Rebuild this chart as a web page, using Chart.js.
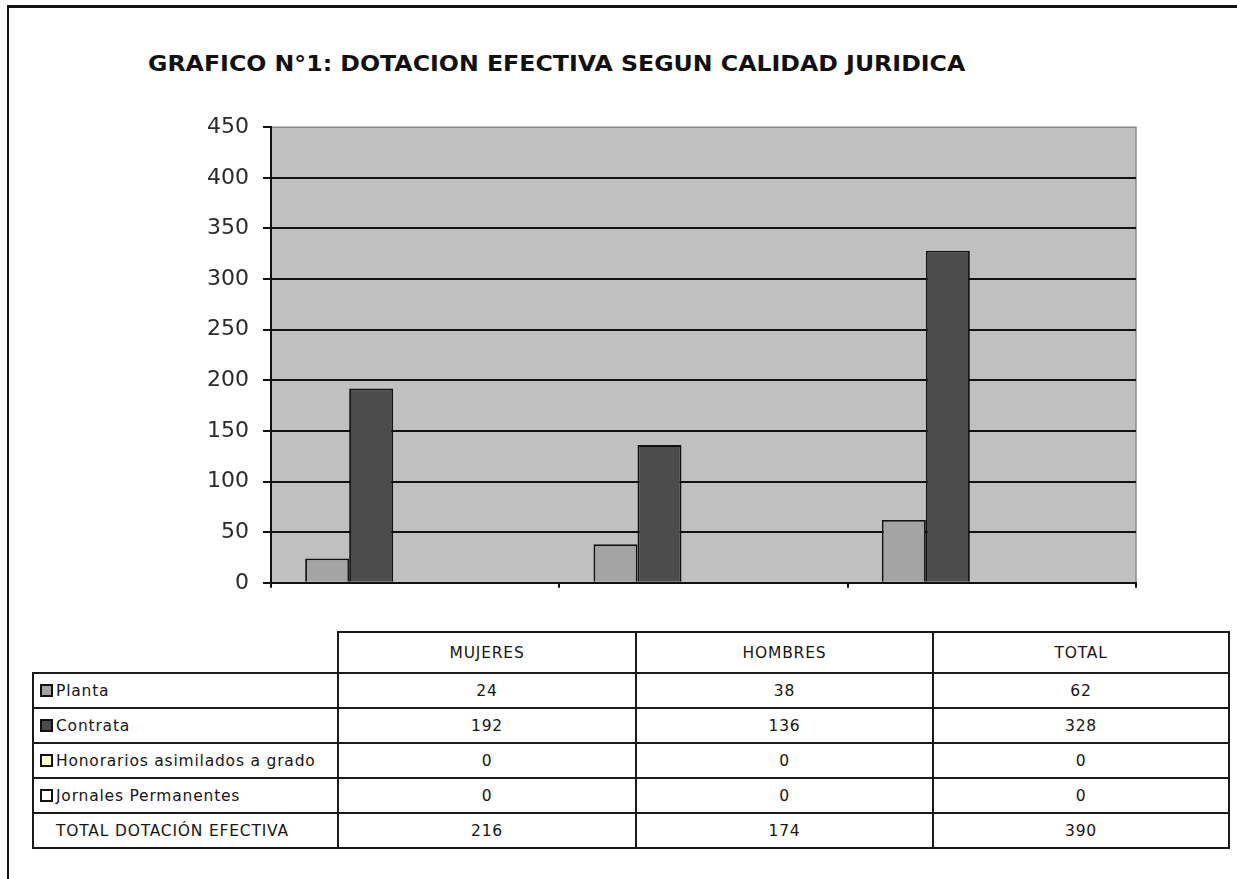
<!DOCTYPE html>
<html>
<head>
<meta charset="utf-8">
<script src="https://cdn.jsdelivr.net/npm/chart.js@4.4.1/dist/chart.umd.min.js"></script>
<style>
  html, body { margin: 0; padding: 0; background: #fff; }
  body { width: 1237px; height: 879px; position: relative; overflow: hidden; font-family: "DejaVu Sans", sans-serif; color: #111; }
  #frameTop { position: absolute; left: 7px; top: 5px; width: 1230px; height: 3px; background: #151515; }
  #frameLeft { position: absolute; left: 7px; top: 5px; width: 2px; height: 874px; background: #151515; }
  #title { position: absolute; left: 148px; top: 51px; font-weight: bold; font-size: 22px; line-height: 26px; white-space: nowrap; transform-origin: 0 0; }
  #chartBox { position: absolute; left: 150px; top: 100px; width: 1020px; height: 510px; }
  .cell { position: absolute; box-sizing: border-box; border: 2px solid #1a1a1a; display: flex; align-items: center; justify-content: center; font-size: 15.5px; letter-spacing: 0.8px; white-space: nowrap; color: #151515; }
  .cell.label { justify-content: flex-start; padding-left: 22px; }
  .key { position: absolute; left: 6px; top: 50%; width: 13px; height: 13px; margin-top: -7px; box-sizing: border-box; border: 2px solid #111; }
</style>
</head>
<body>
<div id="frameTop"></div>
<div id="frameLeft"></div>
<div id="title">GRAFICO N°1: DOTACION EFECTIVA SEGUN CALIDAD JURIDICA</div>
<div id="chartBox"><canvas id="chart" width="1020" height="510"></canvas></div>
<div id="table"></div>

<script>
// Categories and series values
const categories = ['MUJERES', 'HOMBRES', 'TOTAL'];
const planta = [24, 38, 62];
const contrata = [192, 136, 328];
const honorarios = [0, 0, 0];
const jornales = [0, 0, 0];
const totalDotacion = [216, 174, 390];
const yTickValues = [0, 50, 100, 150, 200, 250, 300, 350, 400, 450];

const seriesNames = ['Planta', 'Contrata', 'Honorarios asimilados a grado', 'Jornales Permanentes', 'TOTAL DOTACIÓN EFECTIVA'];
const seriesValues = [planta, contrata, honorarios, jornales, totalDotacion];
const seriesFill = ['#a4a4a4', '#4c4c4c', '#ffffcc', '#ffffff', 'rgba(0,0,0,0)'];
const seriesBorder = ['#111', '#111', '#111', '#111', 'rgba(0,0,0,0)'];

// Grey plot background and its thin frame
const plotBackground = {
  id: 'plotBackground',
  beforeDraw(chart) {
    const { ctx, chartArea: a } = chart;
    ctx.save();
    ctx.fillStyle = '#c0c0c0';
    ctx.fillRect(a.left, a.top, a.right - a.left, a.bottom - a.top);
    ctx.strokeStyle = '#8a8a8a';
    ctx.lineWidth = 1.5;
    ctx.beginPath();
    ctx.moveTo(a.left, a.top);
    ctx.lineTo(a.right, a.top);
    ctx.lineTo(a.right, a.bottom);
    ctx.stroke();
    ctx.restore();
  }
};

new Chart(document.getElementById('chart'), {
  type: 'bar',
  data: {
    labels: categories,
    datasets: seriesNames.map((name, i) => ({
      label: name,
      data: seriesValues[i],
      backgroundColor: seriesFill[i],
      borderColor: seriesBorder[i],
      borderWidth: 1.8,
      categoryPercentage: 0.763,
      barPercentage: 1.0
    }))
  },
  plugins: [plotBackground],
  options: {
    responsive: false,
    animation: false,
    layout: { padding: { left: 51, right: 34, top: 27, bottom: 11 } },
    plugins: { legend: { display: false }, tooltip: { enabled: false }, title: { display: false } },
    scales: {
      x: {
        afterFit(s) { s.height = 12; },
        ticks: { display: false },
        grid: { drawOnChartArea: false, drawTicks: true, tickLength: 5, color: '#111', lineWidth: 2, offset: true },
        border: { color: '#111', width: 2 }
      },
      y: {
        min: 0,
        max: 450,
        afterFit(s) { s.width = 70; },
        afterBuildTicks(s) { s.ticks = yTickValues.map(v => ({ value: v })); },
        ticks: { font: { family: 'DejaVu Sans', size: 22 }, color: '#2a2a2a', padding: 14 },
        grid: {
          color: ctx => (ctx.tick && ctx.tick.value === 450 ? 'rgba(0,0,0,0)' : '#111'),
          tickColor: '#111',
          lineWidth: 2,
          tickLength: 8
        },
        border: { color: '#111', width: 2 }
      }
    }
  }
});

// Fit the title to its line length
const title = document.getElementById('title');
title.style.transform = 'scaleX(' + (817 / title.offsetWidth) + ')';

// Data table below the chart
const colX = [33, 338, 636, 933, 1229];
const rowY = [632, 673, 708, 743, 778, 813, 848];
const keyFill = ['#a4a4a4', '#4c4c4c', '#ffffcc', '#ffffff', null];
const table = document.getElementById('table');

function addCell(x0, y0, x1, y1, text, isLabel, key) {
  const d = document.createElement('div');
  d.className = 'cell' + (isLabel ? ' label' : '');
  d.style.left = (x0 - 1) + 'px';
  d.style.top = (y0 - 1) + 'px';
  d.style.width = (x1 - x0 + 2) + 'px';
  d.style.height = (y1 - y0 + 2) + 'px';
  if (key) {
    const k = document.createElement('span');
    k.className = 'key';
    k.style.background = key;
    d.appendChild(k);
  }
  d.appendChild(document.createTextNode(text));
  table.appendChild(d);
}

categories.forEach((c, j) => addCell(colX[j + 1], rowY[0], colX[j + 2], rowY[1], c, false, null));
seriesNames.forEach((name, i) => {
  addCell(colX[0], rowY[i + 1], colX[1], rowY[i + 2], name, true, keyFill[i]);
  seriesValues[i].forEach((v, j) => addCell(colX[j + 1], rowY[i + 1], colX[j + 2], rowY[i + 2], String(v), false, null));
});
</script>
</body>
</html>
